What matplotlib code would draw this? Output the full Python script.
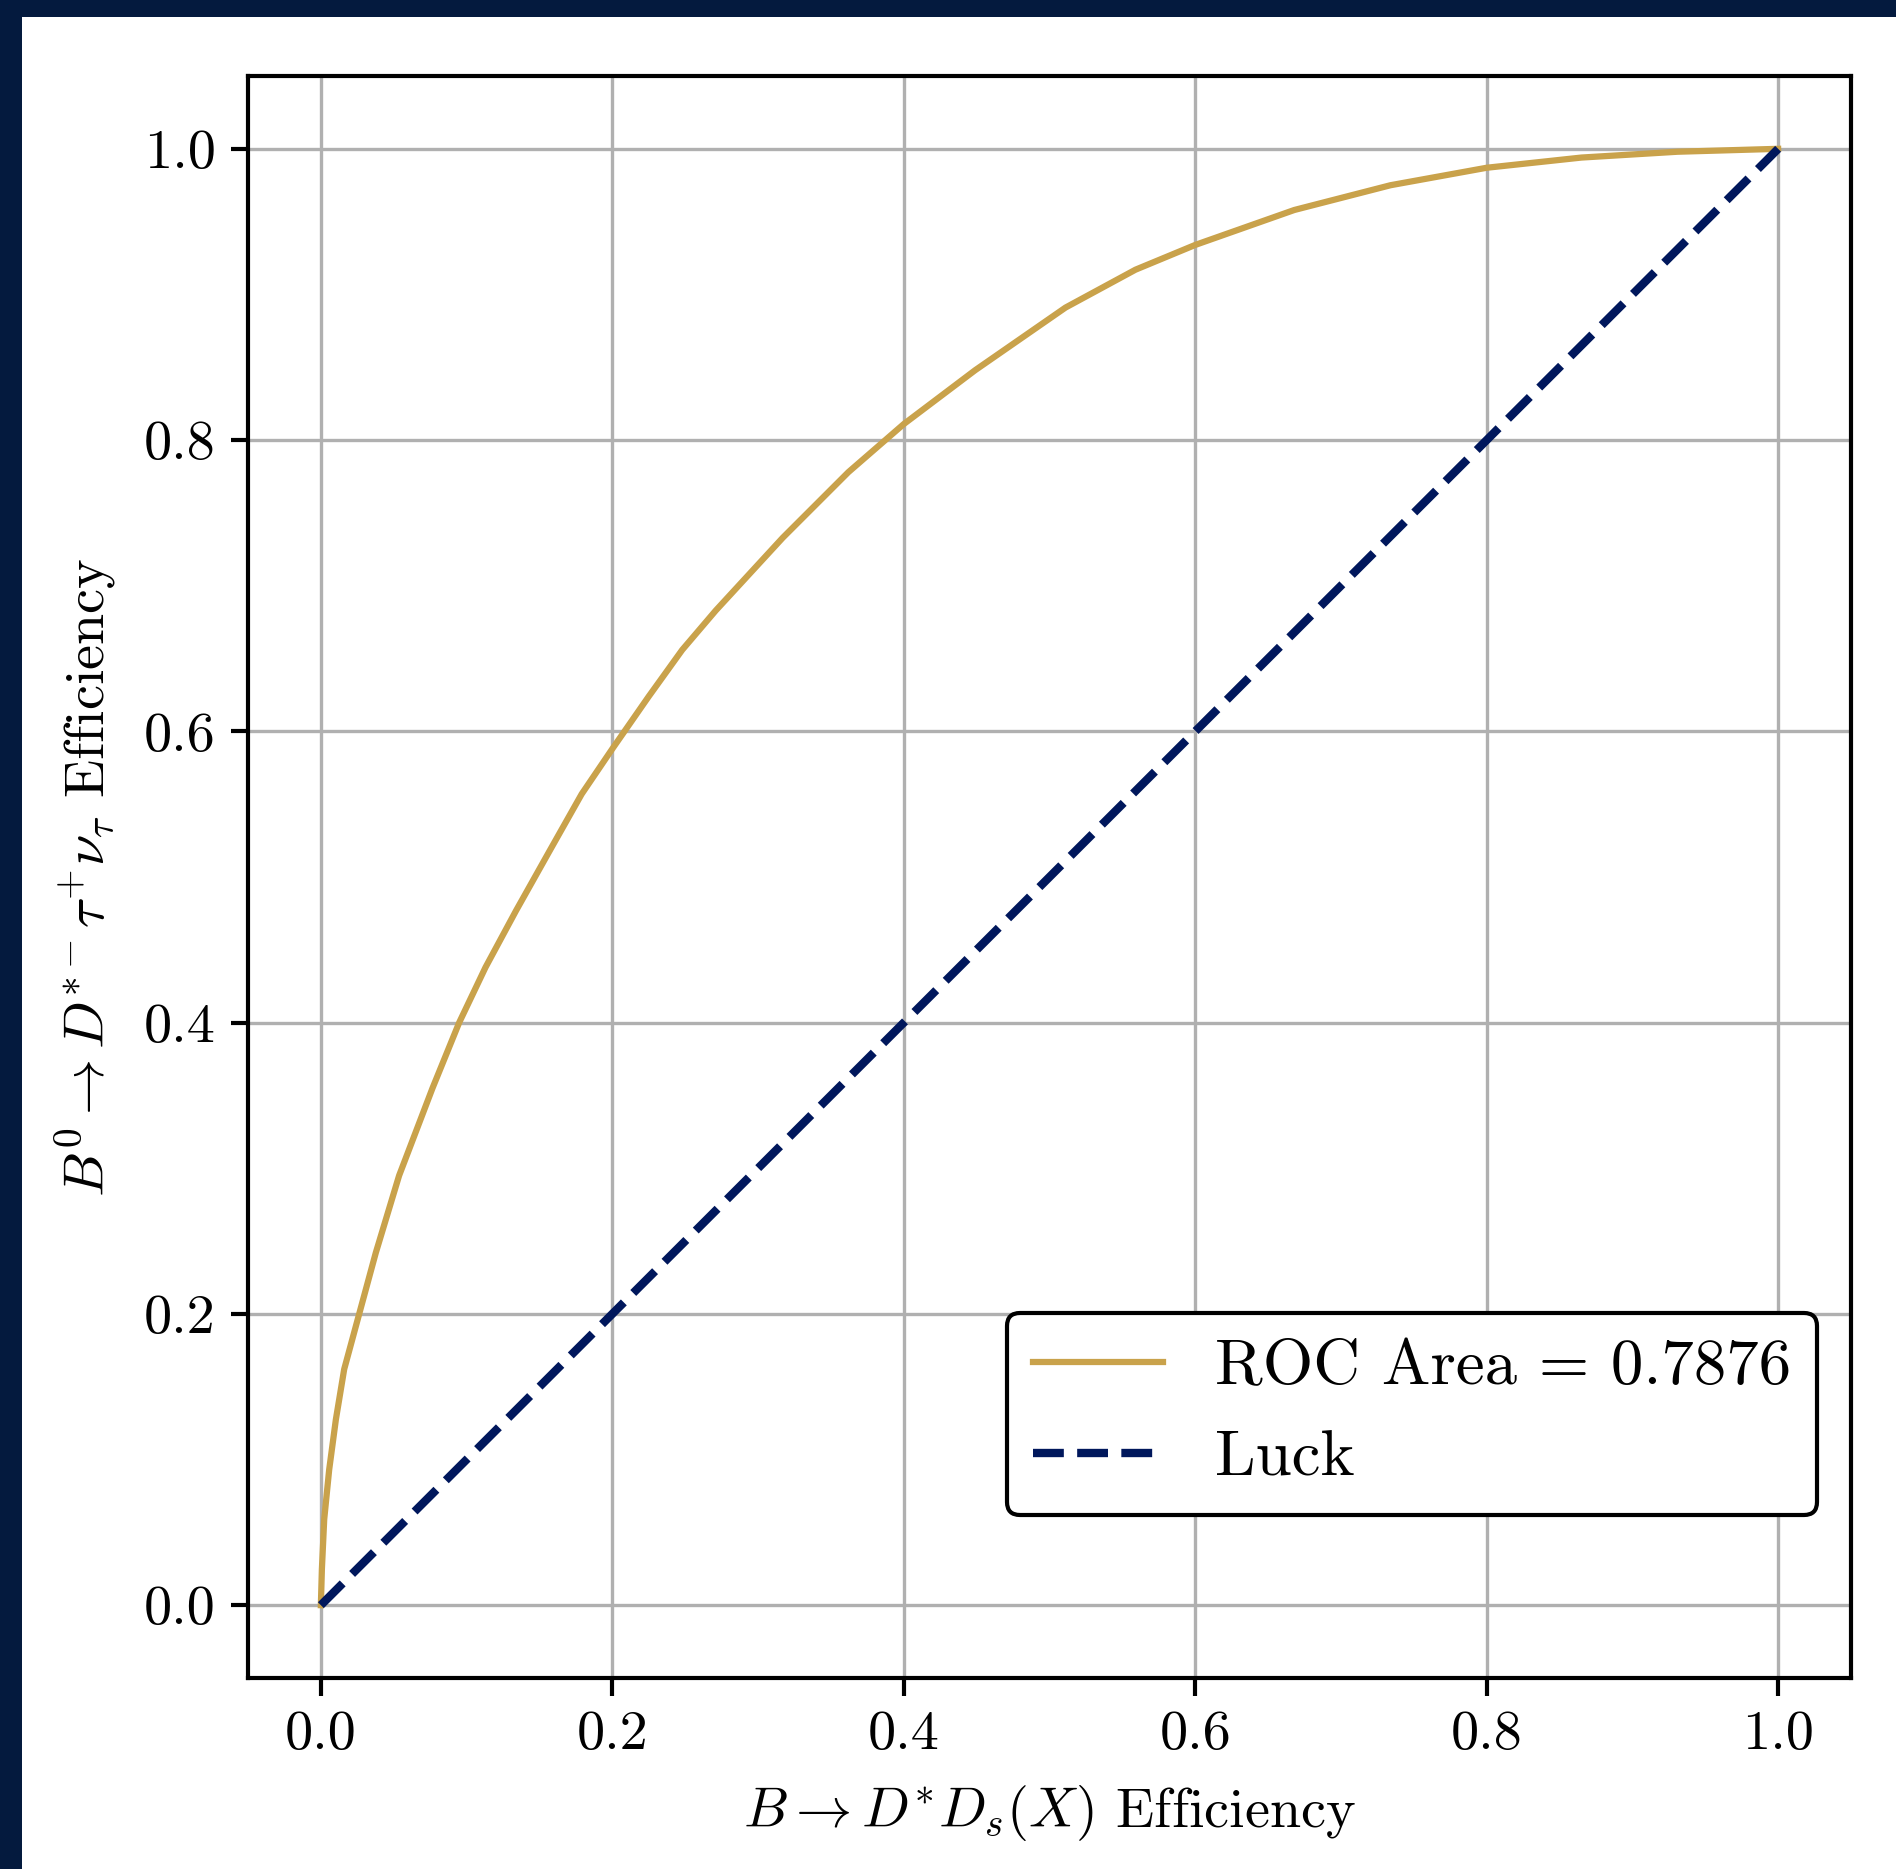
import numpy as np
import matplotlib
matplotlib.use('Agg')
import matplotlib.pyplot as plt
from matplotlib.patches import Rectangle

# ROC curve
fpr = [0.0, 0.0007, 0.0023, 0.0057, 0.0103, 0.016, 0.0263, 0.0377, 0.0537,
       0.0766, 0.0949, 0.113, 0.134, 0.157, 0.179, 0.2, 0.225, 0.248, 0.271,
       0.294, 0.317, 0.342, 0.362, 0.4, 0.449, 0.511, 0.559, 0.6, 0.668,
       0.734, 0.8, 0.865, 0.931, 1.0]
tpr = [0.0, 0.0247, 0.059, 0.093, 0.1275, 0.162, 0.2, 0.242, 0.295,
       0.355, 0.4, 0.438, 0.477, 0.518, 0.557, 0.588, 0.624, 0.656, 0.683,
       0.708, 0.733, 0.758, 0.778, 0.811, 0.848, 0.891, 0.917, 0.934, 0.958,
       0.975, 0.987, 0.994, 0.998, 1.0]
luck = [0.0, 1.0]
roc_area = 0.7876

ticks = [0.0, 0.2, 0.4, 0.6, 0.8, 1.0]

gold = '#C9A24B'
navy = '#00175C'
border = '#041A3E'

plt.rcParams['font.family'] = 'serif'
plt.rcParams['font.serif'] = ['cmr10']
plt.rcParams['mathtext.fontset'] = 'cm'
plt.rcParams['axes.formatter.use_mathtext'] = True

W, H = 1896, 1869
fig = plt.figure(figsize=(W / 300, H / 300), dpi=300)
fig.patch.set_facecolor('white')

# dark band along the top and left edge
fig.patches.append(Rectangle((0, 1 - 17 / H), 1, 17 / H, transform=fig.transFigure,
                             facecolor=border, edgecolor='none'))
fig.patches.append(Rectangle((0, 0), 22 / W, 1, transform=fig.transFigure,
                             facecolor=border, edgecolor='none'))

ax = fig.add_axes([248 / W, 1 - 1678 / H, (1851 - 248) / W, (1678 - 76) / H])

ax.plot(fpr, tpr, color=gold, lw=1.5, label=f'ROC Area = {roc_area:.4f}', zorder=3)
ax.plot(luck, luck, color=navy, lw=2, ls='--', label='Luck', zorder=3)

ax.set_xticks(ticks)
ax.set_yticks(ticks)
ax.set_xticklabels([f'{t:.1f}' for t in ticks])
ax.set_yticklabels([f'{t:.1f}' for t in ticks])
ax.tick_params(labelsize=13.5, length=4.2, width=1.0)
for s in ax.spines.values():
    s.set_linewidth(1.0)
ax.grid(True, color='#b0b0b0', lw=0.8)
ax.set_axisbelow(True)

ax.set_xlabel(r'$B \to D^{*} D_s(X)$ Efficiency', fontsize=13.5, labelpad=5.5)
ax.set_ylabel(r'$B^0 \to D^{*-}\tau^{+}\nu_{\tau}$ Efficiency', fontsize=13.5, labelpad=6)

leg = ax.legend(loc='lower right', bbox_to_anchor=(0.979, 0.102), borderaxespad=0,
                fontsize=15.6, framealpha=1, edgecolor='black', fancybox=True)
leg.get_frame().set_linewidth(1.0)

fig.savefig('out.png', dpi=300)
